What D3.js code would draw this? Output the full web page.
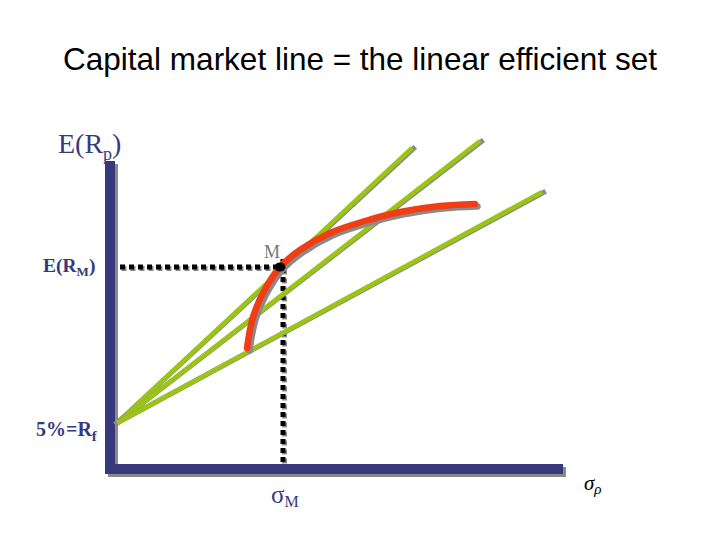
<!DOCTYPE html>
<html lang="en">
<head>
<meta charset="UTF-8">
<title>Capital market line</title>
<script src="https://cdnjs.cloudflare.com/ajax/libs/d3/7.8.5/d3.min.js"></script>
<style>
  body { margin: 0; background: #fff; }
  svg { display: block; }
  .serif { font-family: "Liberation Serif", "Times New Roman", serif; }
</style>
</head>
<body>
<svg id="chart" width="720" height="540"></svg>
<script>
// risk-free rate and market portfolio (sigma, expected return)
const riskFree = 5;
const market = { sigma: 16.5, ret: 20.6 };

// efficient frontier (red curve)
const frontier = [
  [13.2, 12.5], [13.8, 15.6], [14.8, 18.0], [16.5, 20.6], [18.5, 22.3],
  [21.5, 24.0], [25.0, 25.2], [28.5, 26.1], [32.5, 26.7], [36.0, 26.9]
];

// end points of the three lines drawn from Rf
const lineEnds = [[29.7, 32.5], [36.5, 33.2], [42.7, 28.1]];

const xDomain = [0, 45];
const yDomain = [0, 32];

const svg = d3.select("#chart");
const x = d3.scaleLinear().domain(xDomain).range([115, 565]);
const y = d3.scaleLinear().domain(yDomain).range([473, 153]);

const navy = "#363a7c";
const shadow = "#8a8a8a";

// title
svg.append("text")
  .attr("x", 360).attr("y", 70)
  .attr("text-anchor", "middle")
  .style("font-family", "Liberation Sans, Arial, sans-serif")
  .style("font-size", "31.5px")
  .attr("fill", "#000")
  .text("Capital market line = the linear efficient set");

// axes as thick bars with a gray shadow
const axisPath = `M${x(0) - 5},${y(31.2)} V${y(0) - 4} H${x(44.8)}`;
svg.append("path").attr("d", axisPath)
  .attr("transform", "translate(3,3)")
  .attr("fill", "none").attr("stroke", shadow).attr("stroke-width", 10);
svg.append("path").attr("d", axisPath)
  .attr("fill", "none").attr("stroke", navy).attr("stroke-width", 10);

// dotted guides to M
const guides = [
  [[x(0) + 5, y(market.ret)], [x(market.sigma), y(market.ret)]],
  [[x(market.sigma) + 3, y(market.ret) - 8], [x(market.sigma) + 3, y(0) - 10]]
];
guides.forEach(g => {
  [[shadow, 1.5], ["#000", 0]].forEach(([c, off]) => {
    svg.append("line")
      .attr("x1", g[0][0] + off).attr("y1", g[0][1] + off)
      .attr("x2", g[1][0] + off).attr("y2", g[1][1] + off)
      .attr("stroke", c).attr("stroke-width", 5)
      .attr("stroke-dasharray", "5,4");
  });
});

// lines from Rf
lineEnds.forEach(e => {
  svg.append("line")
    .attr("x1", x(0.2)).attr("y1", y(riskFree))
    .attr("x2", x(e[0]) + 1.5).attr("y2", y(e[1]) + 0.5)
    .attr("stroke", shadow).attr("stroke-width", 5)
    .attr("stroke-linecap", "square");
  svg.append("line")
    .attr("x1", x(0.2)).attr("y1", y(riskFree))
    .attr("x2", x(e[0])).attr("y2", y(e[1]))
    .attr("stroke", "#9cc414").attr("stroke-width", 4.5);
});

// efficient frontier
const curve = d3.line()
  .x(d => x(d[0])).y(d => y(d[1]))
  .curve(d3.curveCatmullRom);
svg.append("path").datum(frontier)
  .attr("d", curve)
  .attr("transform", "translate(2.5,2.5)")
  .attr("fill", "none").attr("stroke", shadow).attr("stroke-width", 6.5)
  .attr("stroke-linecap", "round");
svg.append("path").datum(frontier)
  .attr("d", curve)
  .attr("fill", "none").attr("stroke", "#f23c14").attr("stroke-width", 6.5)
  .attr("stroke-linecap", "round");

// market portfolio
svg.append("ellipse")
  .attr("cx", x(market.sigma)).attr("cy", y(market.ret))
  .attr("rx", 5.5).attr("ry", 4.5).attr("fill", "#000");
svg.append("text").attr("class", "serif")
  .attr("x", x(market.sigma) - 8).attr("y", y(market.ret) - 9)
  .attr("text-anchor", "middle")
  .style("font-size", "18px").attr("fill", "#777")
  .text("M");

// axis labels
const ep = svg.append("text").attr("class", "serif")
  .attr("x", 58).attr("y", 153)
  .style("font-size", "28px").attr("fill", navy);
ep.append("tspan").text("E(R");
ep.append("tspan").attr("dy", 7).style("font-size", "18px").text("p");
ep.append("tspan").attr("dy", -7).text(")");

const em = svg.append("text").attr("class", "serif")
  .attr("x", 43).attr("y", y(market.ret) + 5)
  .style("font-size", "19.5px").style("font-weight", "bold").attr("fill", navy);
em.append("tspan").text("E(R");
em.append("tspan").attr("dy", 4).style("font-size", "13px").text("M");
em.append("tspan").attr("dy", -4).text(")");

const rf = svg.append("text").attr("class", "serif")
  .attr("x", 36).attr("y", y(riskFree) + 13)
  .style("font-size", "20px").style("font-weight", "bold").attr("fill", navy);
rf.append("tspan").text("5%=R");
rf.append("tspan").attr("dy", 5).style("font-size", "15px").text("f");

const sm = svg.append("text").attr("class", "serif")
  .attr("x", 271).attr("y", 503)
  .style("font-size", "25px").attr("fill", navy);
sm.append("tspan").text("σ");
sm.append("tspan").attr("dy", 4).style("font-size", "16px").text("M");

const sp = svg.append("text").attr("class", "serif")
  .attr("x", 584).attr("y", 490)
  .style("font-size", "21px").style("font-style", "italic").attr("fill", "#000");
sp.append("tspan").text("σ");
sp.append("tspan").attr("dy", 4).style("font-size", "15px").text("ρ");
</script>
</body>
</html>
